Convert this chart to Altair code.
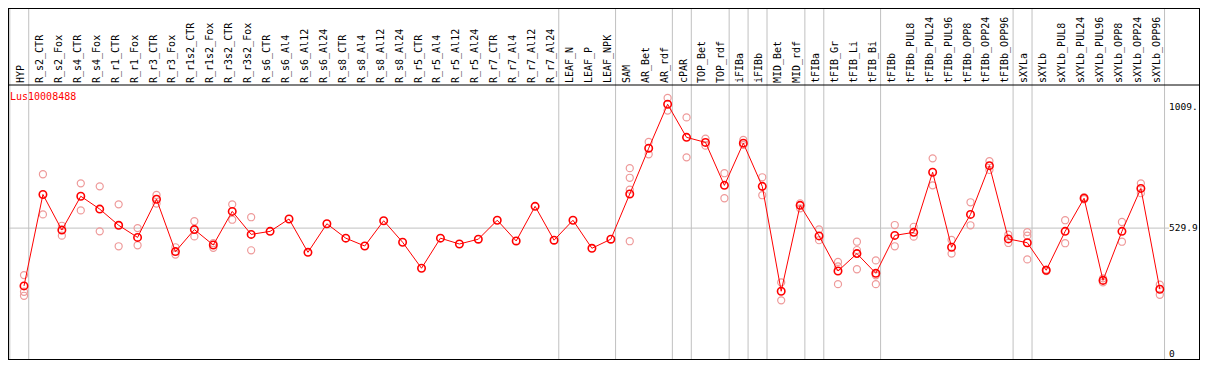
import altair as alt
import pandas as pd

categories = ["HYP", "R_s2_CTR", "R_s2_Fox", "R_s4_CTR", "R_s4_Fox", "R_r1_CTR", "R_r1_Fox",
              "R_r3_CTR", "R_r3_Fox", "R_r1s2_CTR", "R_r1s2_Fox", "R_r3s2_CTR", "R_r3s2_Fox",
              "R_s6_CTR", "R_s6_Al4", "R_s6_Al12", "R_s6_Al24", "R_s8_CTR", "R_s8_Al4",
              "R_s8_Al12", "R_s8_Al24", "R_r5_CTR", "R_r5_Al4", "R_r5_Al12", "R_r5_Al24",
              "R_r7_CTR", "R_r7_Al4", "R_r7_Al12", "R_r7_Al24", "LEAF_N", "LEAF_P", "LEAF_NPK",
              "SAM", "AR_Bet", "AR_rdf", "cPAR", "TOP_Bet", "TOP_rdf", "iFIBa", "iFIBb",
              "MID_Bet", "MID_rdf", "tFIBa", "tFIB_Gr", "tFIB_Li", "tFIB_Bi", "tFIBb",
              "tFIBb_PUL8", "tFIBb_PUL24", "tFIBb_PUL96", "tFIBb_OPP8", "tFIBb_OPP24",
              "tFIBb_OPP96", "sXYLa", "sXYLb", "sXYLb_PUL8", "sXYLb_PUL24", "sXYLb_PUL96",
              "sXYLb_OPP8", "sXYLb_OPP24", "sXYLb_OPP96"]

means = [301, 663, 522, 656, 605, 541, 493, 644, 437, 524, 463, 596, 505,
         517, 566, 434, 547, 490, 459, 559, 474, 371, 490, 467, 486,
         561, 479, 616, 482, 561, 450, 486,
         665, 846, 1020, 889, 869, 699, 866, 695, 280, 620, 499, 360, 429, 351, 501,
         513, 751, 454, 584, 777, 487, 472, 363, 517, 648, 323, 517, 687, 288]

replicates = [[344, 278, 262], [743, 584], [539, 500], [707, 600], [695, 517], [624, 458],
              [530, 462], [661, 627], [454, 425], [557, 497], [470, 452], [624, 563],
              [573, 442],
              [], [], [], [], [], [], [], [], [], [], [], [], [], [], [], [], [], [], [],
              [767, 729, 682, 478], [871, 822], [1045, 995], [968, 810], [884, 856],
              [747, 648], [879, 859], [731, 660], [315, 244], [628, 608], [525, 482],
              [396, 378, 308], [476, 443, 367], [402, 343, 308], [542, 458],
              [535, 496], [806, 699], [483, 429], [632, 541], [795, 760], [504, 471],
              [514, 500, 406], [366, 360], [561, 470], [652, 644], [331, 315],
              [554, 476], [707, 668], [306, 266]]

# group separators drawn after these categories (and one before the first)
separators_after = ["HYP", "R_r7_Al24", "LEAF_NPK", "AR_rdf", "cPAR", "TOP_rdf", "iFIBa",
                    "iFIBb", "MID_rdf", "tFIBa", "tFIB_Bi", "tFIBb_OPP96", "sXYLa",
                    "sXYLb_OPP96"]

tick_values = [0, 529.9, 1009]
tick_labels = ["0", "529.9", "1009."]
gene = "Lus10008488"

W, H = 1192, 352
FONT = "DejaVu Sans Mono"
X0, STEP = 16.0, 18.93          # pixel position of first category and spacing
LABX = 1161                     # left edge of the value labels

main_df = pd.DataFrame({"i": list(range(len(categories))), "cat": categories, "v": means})
rep_rows = [{"i": k, "v": r} for k, reps in enumerate(replicates) for r in reps]
rep_df = pd.DataFrame(rep_rows)
sep_pos = [-1 + 0.25] + [categories.index(c) + 0.25 for c in separators_after]
sep_df = pd.DataFrame({"x": sep_pos})
tick_df = pd.DataFrame({"v": tick_values, "lab": tick_labels})
one = pd.DataFrame({"k": [0]})

xs = alt.Scale(domain=[-X0 / STEP, (W - X0) / STEP], nice=False, zero=False)
ys = alt.Scale(domain=[2 / 0.2527, 354 / 0.2527], nice=False, zero=False)
X = lambda f: alt.X(f, scale=xs, axis=None)
Y = lambda f: alt.Y(f, scale=ys, axis=None)

seps = alt.Chart(sep_df).mark_rule(color="#c0c0c0", strokeWidth=1).encode(
    x=X("x:Q"), y=alt.value(0), y2=alt.value(H))

hline = alt.Chart(tick_df[tick_df.v == 529.9]).mark_rule(color="#c0c0c0", strokeWidth=1).encode(
    y=Y("v:Q"), x=alt.value(0), x2=alt.value(LABX))

header_line = alt.Chart(one).mark_rule(color="black", strokeWidth=1).encode(
    y=alt.value(77), x=alt.value(0), x2=alt.value(W))

frame_l = alt.Chart(one).mark_rule(color="black", strokeWidth=1).encode(
    x=alt.value(0.5), y=alt.value(0), y2=alt.value(H))
frame_r = alt.Chart(one).mark_rule(color="black", strokeWidth=1).encode(
    x=alt.value(W - 0.5), y=alt.value(0), y2=alt.value(H))
frame_t = alt.Chart(one).mark_rule(color="black", strokeWidth=1).encode(
    y=alt.value(0.5), x=alt.value(0), x2=alt.value(W))
frame_b = alt.Chart(one).mark_rule(color="black", strokeWidth=1).encode(
    y=alt.value(H - 0.5), x=alt.value(0), x2=alt.value(W))

cat_labels = alt.Chart(main_df).mark_text(
    angle=270, align="left", baseline="alphabetic", font=FONT, fontSize=10, color="black"
).encode(x=X("i:Q"), y=alt.value(75), text="cat:N")

reps = alt.Chart(rep_df).mark_point(
    shape="circle", size=50, filled=False, color="#ee9a9a", strokeWidth=1.2, opacity=1
).encode(x=X("i:Q"), y=Y("v:Q"))

line = alt.Chart(main_df).mark_line(color="red", strokeWidth=1).encode(
    x=X("i:Q"), y=Y("v:Q"), order="i:Q")

mains = alt.Chart(main_df).mark_point(
    shape="circle", size=55, filled=False, color="red", strokeWidth=1.6, opacity=1
).encode(x=X("i:Q"), y=Y("v:Q"))

ylabels = alt.Chart(tick_df[tick_df.v > 0]).mark_text(
    align="left", baseline="middle", font=FONT, fontSize=9.5, color="black"
).encode(x=alt.value(LABX), y=Y("v:Q"), text="lab:N")

ylabel0 = alt.Chart(tick_df[tick_df.v == 0]).mark_text(
    align="left", baseline="middle", font=FONT, fontSize=9.5, color="black", dy=-8
).encode(x=alt.value(LABX), y=Y("v:Q"), text="lab:N")

title = alt.Chart(pd.DataFrame({"t": [gene]})).mark_text(
    align="left", baseline="middle", font=FONT, fontSize=10, color="red"
).encode(x=alt.value(2), y=alt.value(89), text="t:N")

chart = alt.layer(seps, hline, header_line, frame_l, frame_r, frame_t, frame_b,
                  cat_labels, reps, line, mains, ylabels, ylabel0, title).properties(
    width=W, height=H, padding=0,
    autosize=alt.AutoSizeParams(type="none"),
    background="white",
).configure_view(stroke=None)

chart.save("out.html", embed_options={"renderer": "svg", "actions": False})
